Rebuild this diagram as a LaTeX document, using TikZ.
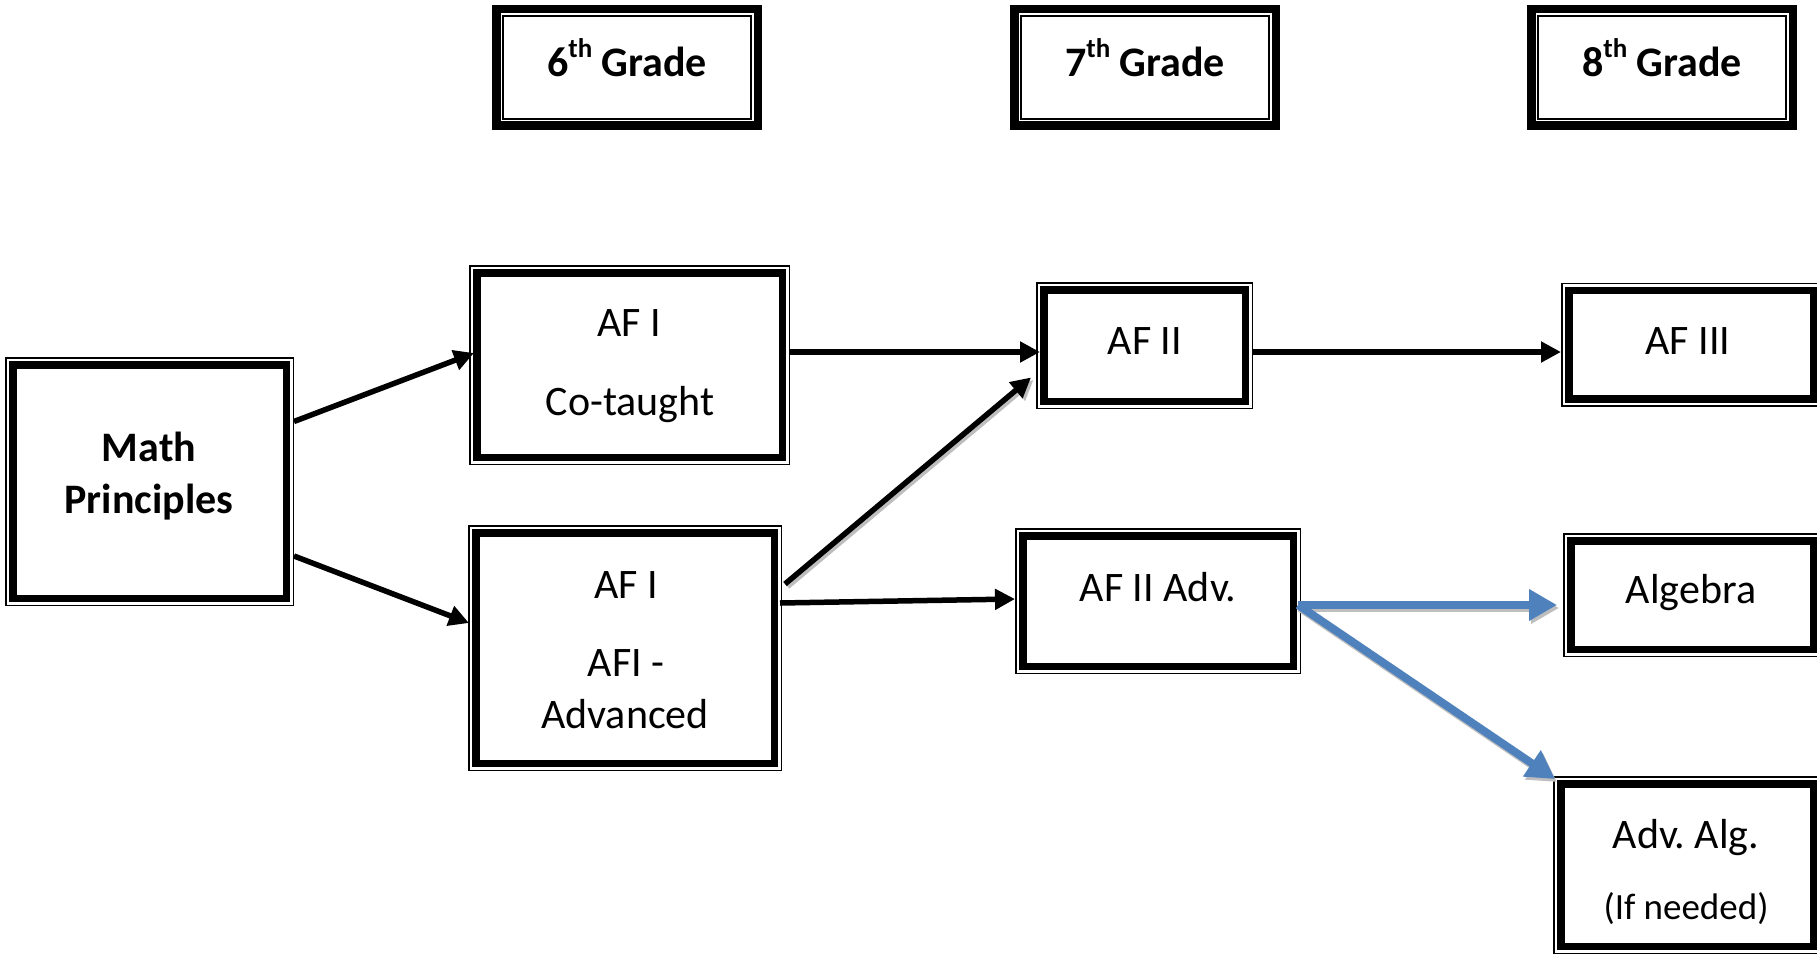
\documentclass[tikz,border=0pt]{standalone}
\usepackage{fontspec}
\setmainfont{Carlito}
\usetikzlibrary{arrows.meta}
\definecolor{flowblue}{HTML}{4F81BD}
\definecolor{shadowgray}{HTML}{BEBEBE}
\tikzset{
  thinthick/.style={rectangle, inner sep=0pt, outer sep=0pt, fill=white,
    path picture={
      \draw[line width=1.5pt] ([shift={(0.75pt,-0.75pt)}]path picture bounding box.north west) rectangle ([shift={(-0.75pt,0.75pt)}]path picture bounding box.south east);
      \draw[line width=7.5pt] ([shift={(7.75pt,-7.75pt)}]path picture bounding box.north west) rectangle ([shift={(-7.75pt,7.75pt)}]path picture bounding box.south east);
    }},
  thickthin/.style={rectangle, inner sep=0pt, outer sep=0pt, fill=white,
    path picture={
      \draw[line width=8.5pt] ([shift={(4.25pt,-4.25pt)}]path picture bounding box.north west) rectangle ([shift={(-4.25pt,4.25pt)}]path picture bounding box.south east);
      \draw[line width=2pt] ([shift={(11pt,-11pt)}]path picture bounding box.north west) rectangle ([shift={(-11pt,11pt)}]path picture bounding box.south east);
    }},
  txt/.style={anchor=base, inner sep=0pt, font=\fontsize{42pt}{50pt}\selectfont},
  btxt/.style={txt, font=\fontsize{42pt}{50pt}\selectfont\bfseries},
  stxt/.style={txt, font=\fontsize{37pt}{44pt}\selectfont},
  blk/.style={line width=5.5pt, -{Triangle[length=20pt,width=20pt]}},
  blkshadow/.style={draw=shadowgray, line width=5.5pt, -{Triangle[length=20pt,width=20pt]}, transform canvas={shift={(2.5pt,-2.5pt)}}},
  blu/.style={draw=flowblue, line width=8pt, -{Triangle[length=28pt,width=30pt]}},
  blushadow/.style={draw=shadowgray, line width=8pt, -{Triangle[length=28pt,width=30pt]}, transform canvas={shift={(2pt,-3pt)}}},
}
\newcommand{\supth}{\raisebox{19pt}{\fontsize{27pt}{27pt}\selectfont th}}
\begin{document}
\begin{tikzpicture}[x=1pt,y=-1pt]
\useasboundingbox (0,0) rectangle (1817,955);
% grade headers
\node[thickthin, minimum width=270pt, minimum height=125pt] (g6) at (627,67.5) {};
\node[thickthin, minimum width=270pt, minimum height=125pt] (g7) at (1145,67.5) {};
\node[thickthin, minimum width=270pt, minimum height=125pt] (g8) at (1662,67.5) {};
\node[btxt] (g6t) at (627,77) {6\supth\ Grade};
\node[btxt] (g7t) at (1145,77) {7\supth\ Grade};
\node[btxt] (g8t) at (1662,77) {8\supth\ Grade};
% course boxes
\node[thinthick, minimum width=289pt, minimum height=249pt] (math) at (149.5,481.5) {};
\node[thinthick, minimum width=321pt, minimum height=200pt] (afc) at (629.5,365) {};
\node[thinthick, minimum width=314pt, minimum height=246pt] (afa) at (625,648) {};
\node[thinthick, minimum width=217pt, minimum height=127pt] (af2) at (1144.5,345.5) {};
\node[thinthick, minimum width=260pt, minimum height=124pt] (af3) at (1691,344.5) {};
\node[thinthick, minimum width=286pt, minimum height=146pt] (af2a) at (1158,601) {};
\node[thinthick, minimum width=258pt, minimum height=124pt] (alg) at (1692,595) {};
\node[thinthick, minimum width=268pt, minimum height=178pt] (adv) at (1687,865) {};
% texts
\node[btxt] (matht1) at (149,461) {Math};
\node[btxt] (matht2) at (149,513) {Principles};
\node[txt] (afct1) at (629,336) {AF I};
\node[txt] (afct2) at (630,415) {Co-taught};
\node[txt] (afat1) at (626,598) {AF I};
\node[txt] (afat2) at (626,676) {AFI -};
\node[txt] (afat3) at (625,728) {Advanced};
\node[txt] (af2t) at (1145,354) {AF II};
\node[txt] (af3t) at (1688,354) {AF III};
\node[txt] (af2at) at (1158,601) {AF II Adv.};
\node[txt] (algt) at (1691,603) {Algebra};
\node[txt] (advt1) at (1686,848) {Adv.\ Alg.};
\node[stxt] (advt2) at (1686,919) {(If needed)};
% connectors
\draw[blk] ([yshift=60pt]math.east) -- ([xshift=5pt,yshift=12pt]afc.west);
\draw[blk] ([yshift=-74.5pt]math.east) -- ([xshift=1pt,yshift=25pt]afa.west);
\draw[blk] ([yshift=13pt]afc.east) -- ([xshift=4pt,yshift=-6.5pt]af2.west);
\draw[blkshadow] ([xshift=3pt,yshift=64pt]afa.east) -- ([xshift=-5pt,yshift=-32pt]af2.west);
\draw[blk] ([xshift=3pt,yshift=64pt]afa.east) -- ([xshift=-5pt,yshift=-32pt]af2.west);
\draw[blk] ([xshift=-2pt,yshift=45pt]afa.east) -- ([yshift=2pt]af2a.west);
\draw[blk] ([yshift=-6.5pt]af2.east) -- ([yshift=-7.5pt]af3.west);
\draw[blushadow] ([xshift=-3pt,yshift=-4pt]af2a.east) -- ([xshift=-6pt,yshift=-10pt]alg.west);
\draw[blushadow] ([xshift=-3pt,yshift=-4pt]af2a.east) -- ([xshift=2pt,yshift=-3pt]adv.north west);
\draw[blu] ([xshift=-3pt,yshift=-4pt]af2a.east) -- ([xshift=-6pt,yshift=-10pt]alg.west);
\draw[blu] ([xshift=-3pt,yshift=-4pt]af2a.east) -- ([xshift=2pt,yshift=-3pt]adv.north west);
\end{tikzpicture}
\end{document}
